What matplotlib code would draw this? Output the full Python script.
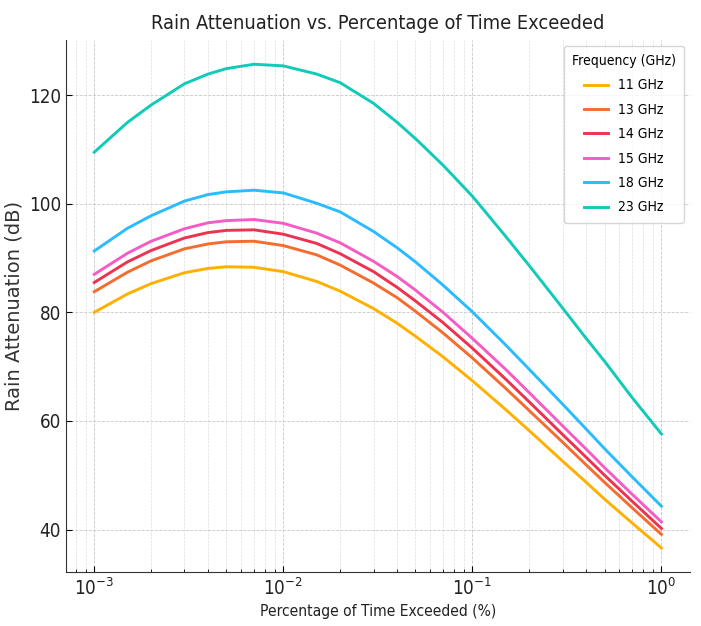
import matplotlib
matplotlib.use("Agg")
import matplotlib.pyplot as plt

# percentage of time exceeded (%)
pct = [0.001, 0.0015, 0.002, 0.003, 0.004, 0.005, 0.007, 0.01, 0.015, 0.02, 0.03,
       0.04, 0.05, 0.07, 0.1, 0.15, 0.2, 0.3, 0.4, 0.5, 0.7, 1.0]

# rain attenuation (dB) per frequency
att_11 = [80.0, 83.4, 85.3, 87.3, 88.1, 88.4, 88.3, 87.5, 85.7, 83.9, 80.7,
          78.0, 75.6, 71.8, 67.4, 62.1, 58.2, 52.6, 48.7, 45.6, 41.2, 36.6]
att_13 = [83.8, 87.4, 89.5, 91.7, 92.6, 93.0, 93.1, 92.3, 90.6, 88.7, 85.4,
          82.7, 80.2, 76.2, 71.6, 66.0, 61.9, 56.1, 51.9, 48.7, 44.0, 39.1]
att_14 = [85.5, 89.3, 91.4, 93.7, 94.7, 95.1, 95.2, 94.4, 92.7, 90.8, 87.5,
          84.6, 82.1, 78.1, 73.4, 67.7, 63.5, 57.5, 53.3, 50.0, 45.2, 40.2]
att_15 = [87.0, 90.9, 93.1, 95.4, 96.5, 96.9, 97.1, 96.4, 94.6, 92.8, 89.4,
          86.6, 84.1, 80.0, 75.2, 69.5, 65.2, 59.1, 54.8, 51.4, 46.5, 41.4]
att_18 = [91.3, 95.5, 97.8, 100.5, 101.7, 102.2, 102.5, 102.0, 100.1, 98.5, 94.9,
          91.9, 89.3, 85.0, 80.1, 74.0, 69.5, 63.1, 58.5, 54.9, 49.7, 44.3]
att_23 = [109.5, 115.0, 118.2, 122.1, 123.9, 124.9, 125.7, 125.4, 123.9, 122.3, 118.5,
          115.0, 112.0, 107.1, 101.4, 94.0, 88.6, 80.8, 75.2, 71.0, 64.3, 57.6]

labels = ["11 GHz", "13 GHz", "14 GHz", "15 GHz", "18 GHz", "23 GHz"]
colors = ["#FFB000", "#F46D2E", "#EE3350", "#F55CC5", "#2BBCFF", "#10CBB8"]

cond = {"family": "DejaVu Sans", "stretch": "condensed"}

fig = plt.figure(figsize=(7.01, 6.26), dpi=100)
ax = fig.add_axes([0.094, 0.086, 0.890, 0.850])

series = [att_11, att_13, att_14, att_15, att_18, att_23]
for vals, lab, col in zip(series, labels, colors):
	ax.plot(pct, vals, color=col, lw=2.1, label=lab)

ax.set_xscale("log")
ax.set_title("Rain Attenuation vs. Percentage of Time Exceeded",
	fontsize=14.3, pad=8, color="#222222", **cond)
ax.set_xlabel("Percentage of Time Exceeded (%)", fontsize=11.2, color="#222222", **cond)
ax.set_ylabel("Rain Attenuation (dB)", fontsize=14, color="#333333")

ax.grid(True, which="major", ls="--", lw=0.6, color="#c8c8c8")
ax.grid(True, which="minor", axis="x", ls="--", lw=0.5, color="#dddddd")
ax.tick_params(which="both", direction="in", labelsize=13.5, labelcolor="#222222")
ax.tick_params(which="major", length=4)
ax.tick_params(which="minor", length=2.5)
for t in ax.get_xticklabels() + ax.get_yticklabels():
	t.set_fontfamily(cond["family"])
	t.set_fontstretch(cond["stretch"])
ax.spines["top"].set_visible(False)
ax.spines["right"].set_visible(False)
for s in ("left", "bottom"):
	ax.spines[s].set_color("#333333")

leg = ax.legend(title="Frequency (GHz)", loc="upper right",
	prop={"family": "DejaVu Sans", "stretch": "condensed", "size": 10},
	title_fontproperties={"family": "DejaVu Sans", "stretch": "condensed", "size": 10},
	handlelength=1.7, handletextpad=0.7, frameon=True, fancybox=True,
	borderpad=0.6, labelspacing=0.75, borderaxespad=0.4)
leg.get_frame().set_edgecolor("#cccccc")

fig.savefig("out.png", dpi=100)
